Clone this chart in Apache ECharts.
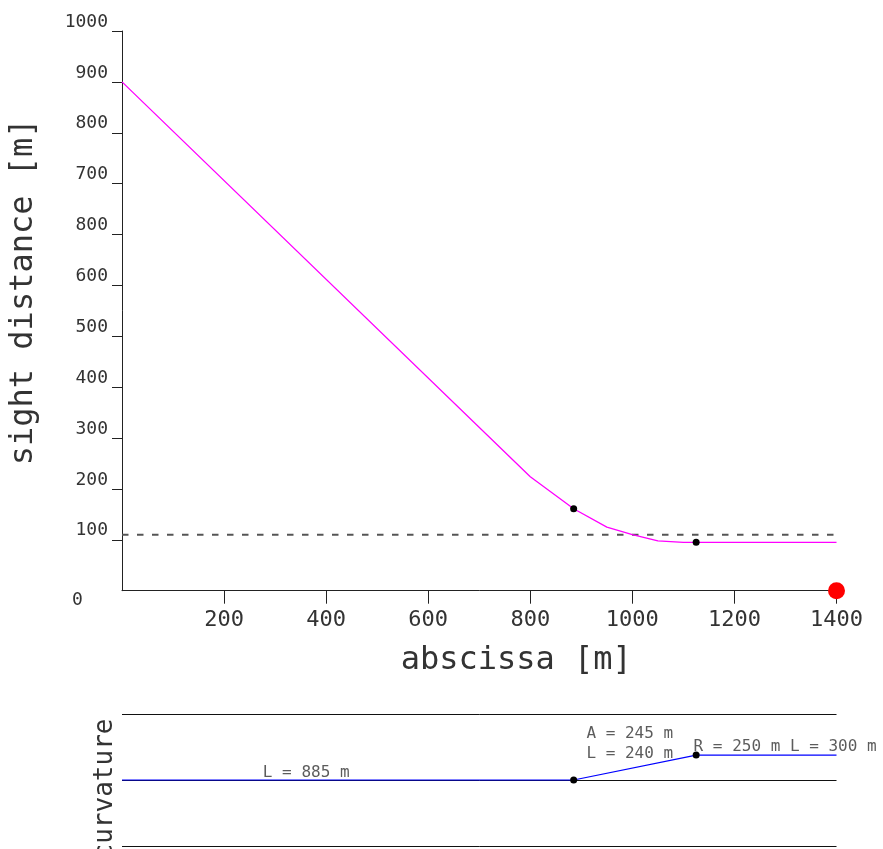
<!DOCTYPE html>
<html lang="en">
<head>
<meta charset="UTF-8">
<title>sight distance</title>
<script src="https://cdn.jsdelivr.net/npm/echarts@6/dist/echarts.min.js"></script>
<style>body{margin:0;background:#fff;}</style>
</head>
<body>
<div id="chart" style="width:883px;height:849px;"></div>
<script>
// sight distance along the alignment (pink)
var distX = [0, 800, 885, 950, 1000, 1050, 1100, 1125, 1400];
var distY = [1000, 224, 161, 125, 110, 98, 95, 95, 95];
// element start points on the sight distance curve
var markX = [885, 1125];
var markY = [161, 95];
// required distance (dashed)
var limitX = [0, 1400];
var limitY = [110, 110];
// observer position
var endX = [1400];
var endY = [0];

// tick values and the labels printed next to them (as in the original)
var xTickValues = [200, 400, 600, 800, 1000, 1200, 1400];
var xTickLabels = ['200', '400', '600', '800', '1000', '1200', '1400'];
var yTickValues = [100, 200, 300, 400, 500, 600, 700, 800, 900, 1000, 1100];
var yTickLabels = ['100', '200', '300', '400', '500', '600', '800', '700', '800', '900', '1000'];
var zeroLabel = '0';

// curvature diagram, 1/km
var curvX = [0, 885, 1125, 1400];
var curvY = [0, 0, 4, 4];
var curvMarkX = [885, 1125];
var curvMarkY = [0, 4];
var curvMax = 10.6;

// element annotations
var noteText = ['L = 885 m', 'A = 245 m', 'L = 240 m', 'R = 250 m L = 300 m'];
var noteX = [276, 910, 910, 1120];
var noteY = [1.15, 7.4, 4.2, 5.3];

var FONT = 'DejaVu Sans Mono';
var INK = '#333';

function pairs(xs, ys) {
    return xs.map(function (x, i) { return [x, ys[i]]; });
}

var myChart = echarts.init(document.getElementById('chart'));

myChart.setOption({
    animation: false,
    grid: [
        {left: 122, top: 31, width: 714.5, height: 559.7, outerBoundsMode: 'none'},
        {left: 122, top: 714, width: 714.5, height: 132, outerBoundsMode: 'none'}
    ],
    xAxis: [{
        gridIndex: 0,
        type: 'value',
        min: 0,
        max: 1400,
        axisLine: {lineStyle: {color: '#222', width: 1}},
        axisTick: {length: 13, customValues: xTickValues, lineStyle: {color: '#222'}},
        axisLabel: {
            customValues: xTickValues,
            formatter: function (v) { return xTickLabels[xTickValues.indexOf(v)]; },
            fontFamily: FONT, fontSize: 22, color: INK, margin: 19
        },
        splitLine: {show: false},
        name: 'abscissa [m]',
        nameLocation: 'middle',
        nameGap: 54,
        nameTextStyle: {fontFamily: FONT, fontSize: 32, color: INK, padding: [0, 0, 0, 74]}
    }, {
        gridIndex: 1,
        type: 'value',
        min: 0,
        max: 1400,
        show: false
    }],
    yAxis: [{
        gridIndex: 0,
        type: 'value',
        min: 0,
        max: 1100,
        axisLine: {show: true, lineStyle: {color: '#222', width: 1}},
        axisTick: {show: true, length: 10, customValues: yTickValues, lineStyle: {color: '#222'}},
        axisLabel: {
            customValues: yTickValues,
            formatter: function (v) { return yTickLabels[yTickValues.indexOf(v)]; },
            fontFamily: FONT, fontSize: 18, color: INK, margin: 14, verticalAlign: 'bottom'
        },
        splitLine: {show: false},
        name: 'sight distance [m]',
        nameLocation: 'middle',
        nameRotate: 90,
        nameGap: 82,
        nameTextStyle: {fontFamily: FONT, fontSize: 32, color: INK, padding: [0, 0, 0, 38]}
    }, {
        gridIndex: 1,
        type: 'value',
        min: -curvMax,
        max: curvMax,
        interval: curvMax,
        axisLine: {show: false},
        axisTick: {show: false},
        axisLabel: {show: false},
        splitLine: {show: true, lineStyle: {color: '#111', width: 1}},
        name: 'curvature',
        nameLocation: 'middle',
        nameRotate: 90,
        nameGap: 4,
        nameTextStyle: {fontFamily: FONT, fontSize: 26, color: INK, padding: [0, 18, 0, 0]}
    }],
    series: [{
        type: 'line',
        data: pairs(limitX, limitY),
        symbol: 'none',
        lineStyle: {color: '#555', width: 1.8, type: [6.5, 8.5]},
        z: 2
    }, {
        type: 'line',
        data: pairs(distX, distY),
        symbol: 'none',
        lineStyle: {color: '#ff00ff', width: 1.3},
        z: 3
    }, {
        type: 'scatter',
        data: pairs(markX, markY),
        symbolSize: 7,
        itemStyle: {color: '#000', opacity: 1},
        z: 4
    }, {
        type: 'scatter',
        data: pairs(endX, endY),
        symbolSize: 17,
        clip: false,
        itemStyle: {color: '#ff0000', opacity: 1},
        z: 5
    }, {
        type: 'line',
        xAxisIndex: 1,
        yAxisIndex: 1,
        data: pairs(curvX, curvY),
        symbol: 'none',
        lineStyle: {color: '#0000ff', width: 1.2},
        z: 3
    }, {
        type: 'scatter',
        xAxisIndex: 1,
        yAxisIndex: 1,
        data: pairs(curvMarkX, curvMarkY),
        symbolSize: 7,
        itemStyle: {color: '#000', opacity: 1},
        z: 4
    }, {
        type: 'scatter',
        xAxisIndex: 1,
        yAxisIndex: 1,
        symbolSize: 0,
        clip: false,
        data: noteText.map(function (t, i) {
            return {value: [noteX[i], noteY[i]], label: {formatter: t}};
        }),
        label: {show: true, position: 'right', distance: 0, fontFamily: FONT, fontSize: 16, color: INK},
        z: 5
    }]
});

// the "0" of the distance axis sits below the x axis, outside the normal label row
var origin = myChart.convertToPixel({gridIndex: 0}, [0, 0]);
myChart.setOption({
    graphic: [{
        type: 'text',
        x: origin[0] - 50,
        y: origin[1] + 1,
        style: {text: zeroLabel, fontFamily: FONT, fontSize: 18, fill: INK}
    }]
});
</script>
</body>
</html>
